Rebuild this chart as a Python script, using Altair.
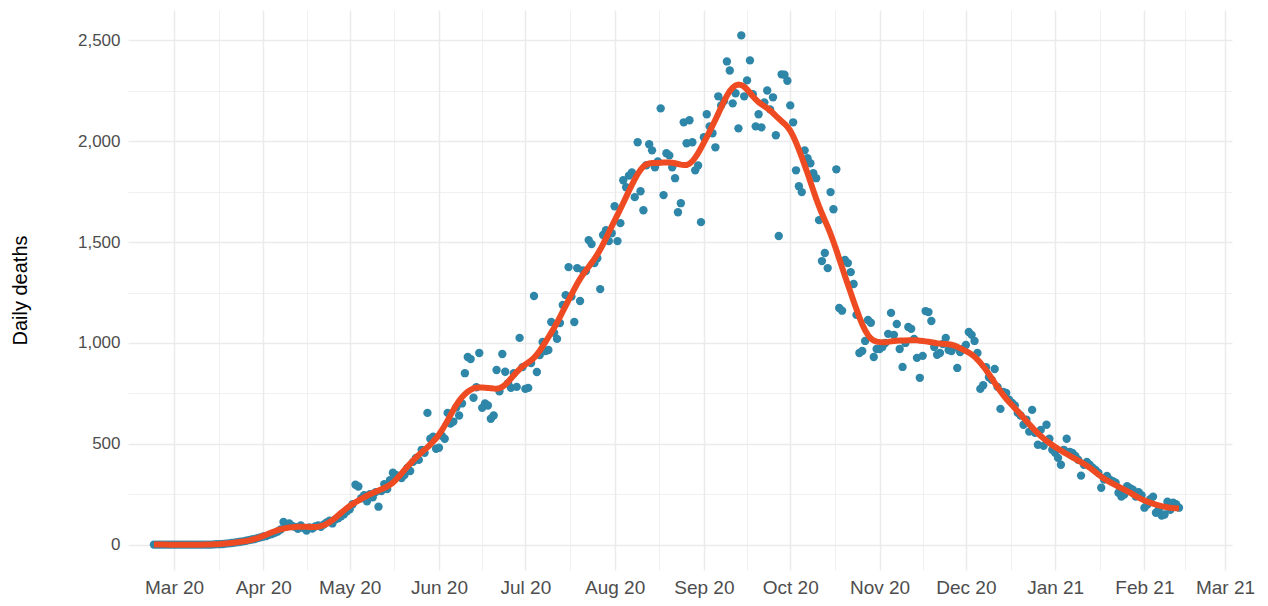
import altair as alt
import numpy as np
import pandas as pd
from datetime import datetime, timezone

# Daily deaths, one value per day starting 2020-02-23
feb20 = [0, 0, 0, 0, 0, 0, 0]
mar20 = [0, 0, 0, 0, 0, 0, 0, 0, 0, 0, 0, 0, 0, 0,
         1, 2, 2, 3, 5, 6, 8, 10, 12, 14, 16, 19, 22, 25, 28, 32, 36]
apr20 = [40, 42, 48, 52, 58, 65, 75, 112, 98, 105, 92, 88, 78, 95, 82,
         70, 85, 80, 90, 95, 88, 100, 110, 118, 105, 125, 130, 140, 150, 165]
may20 = [175, 200, 297, 288, 230, 245, 215, 250, 235, 260, 188, 265, 300, 275, 320,
         356, 345, 340, 330, 345, 380, 365, 410, 430, 420, 470, 455, 653, 525, 535, 475]
jun20 = [480, 540, 525, 653, 600, 610, 680, 640, 700, 850, 930, 920, 728, 780, 950,
         678, 700, 690, 624, 640, 866, 760, 945, 857, 800, 777, 850, 782, 1025, 880]
jul20 = [772, 777, 900, 1233, 856, 940, 1005, 960, 965, 1104, 1050, 1020, 1099, 1188, 1237,
         1376, 1230, 1104, 1371, 1208, 1360, 1356, 1510, 1490, 1396, 1420, 1267, 1535, 1559, 1505, 1544]
aug20 = [1678, 1505, 1594, 1807, 1772, 1830, 1846, 1723, 1995, 1752, 1658, 1881, 1985, 1955, 1871,
         1900, 2163, 1733, 1941, 1930, 1871, 1817, 1648, 1693, 2094, 1990, 2104, 1995, 1856, 1880, 1599]
sep20 = [2020, 2134, 2074, 2040, 1970, 2223, 2178, 2200, 2396, 2351, 2188, 2238, 2064, 2525, 2223,
         2302, 2401, 2233, 2074, 2134, 2069, 2193, 2252, 2158, 2218, 2030, 1530, 2332, 2330, 2300]
oct20 = [2178, 2094, 1856, 1777, 1748, 1955, 1916, 1891, 1842, 1817, 1609, 1406, 1446, 1371, 1748,
         1663, 1861, 1173, 1160, 1411, 1396, 1351, 1292, 1139, 950, 960, 1010, 1114, 1100, 930, 970]
nov20 = [970, 980, 1000, 1045, 1149, 1040, 1094, 970, 881, 1000, 1079, 1070, 1020, 926, 827,
         936, 1158, 1153, 1109, 980, 941, 950, 995, 1025, 965, 960, 980, 876, 955, 970]
dec20 = [990, 1054, 1040, 1010, 950, 772, 790, 880, 830, 817, 871, 782, 673, 757, 752,
         718, 703, 690, 653, 640, 594, 620, 560, 668, 554, 495, 569, 490, 594, 525, 470]
jan21 = [455, 430, 396, 470, 525, 460, 455, 440, 421, 342, 396, 410, 396, 381, 370,
         356, 282, 322, 340, 322, 315, 307, 257, 238, 248, 290, 280, 272, 238, 260, 245]
feb21 = [183, 198, 225, 238, 158, 175, 144, 149, 213, 173, 208, 200, 183]

deaths = (feb20 + mar20 + apr20 + may20 + jun20 + jul20 + aug20 + sep20 +
          oct20 + nov20 + dec20 + jan21 + feb21)
dates = pd.date_range("2020-02-23", periods=len(deaths), freq="D")


def loess_quadratic(y, span=0.1):
    """Local quadratic regression with tricube weights (as R's loess, degree 2)."""
    y = np.asarray(y, dtype=float)
    n = len(y)
    x = np.arange(n, dtype=float)
    q = int(np.floor(n * span))
    out = np.empty(n)
    for i in range(n):
        d = np.abs(x - x[i])
        h = np.sort(d)[q - 1]
        w = np.clip(1 - (d / h) ** 3, 0, None) ** 3
        X = np.vstack([np.ones(n), x - x[i], (x - x[i]) ** 2]).T
        W = np.sqrt(w)
        beta, *_ = np.linalg.lstsq(X * W[:, None], y * W, rcond=None)
        out[i] = beta[0]
    return out


df = pd.DataFrame({
    "date": dates.strftime("%Y-%m-%d"),
    "deaths": deaths,
    "smooth": loess_quadratic(deaths, span=0.1),
})

POINT_COLOR = "#2E86A8"
LINE_COLOR = "#EE4B23"
GRID = "#EBEBEB"
FONT = "Liberation Sans"


def ms(y, m, d, h=0):
    return int(datetime(y, m, d, h, tzinfo=timezone.utc).timestamp() * 1000)


month_starts = [ms(2020, m, 1) for m in range(2, 13)] + [ms(2021, m, 1) for m in (1, 2, 3)]
mid_months = [(a + b) // 2 for a, b in zip(month_starts[:-1], month_starts[1:])]
x_ticks = sorted(month_starts[1:] + mid_months[1:])
y_ticks = list(range(0, 2501, 250))

x_scale = alt.Scale(
    type="utc",
    domain=[alt.DateTime(year=2020, month=2, date=14, utc=True),
            alt.DateTime(year=2021, month=3, date=3, hours=10, utc=True)],
    nice=False,
)
y_scale = alt.Scale(domain=[-126, 2651], nice=False, zero=False)

x_axis = alt.Axis(
    values=x_ticks,
    labelExpr="utcdate(datum.value) == 1 ? utcFormat(datum.value, '%b %y') : ''",
    gridWidth={"condition": {"test": "utcdate(datum.value) == 1", "value": 1.5}, "value": 0.75},
    title=None,
    labelFontSize=19,
    labelPadding=8,
    labelOverlap=False,
    labelFlush=False,
)
y_axis = alt.Axis(
    values=y_ticks,
    labelExpr="datum.value % 500 == 0 ? format(datum.value, ',') : ''",
    gridWidth={"condition": {"test": "datum.value % 500 == 0", "value": 1.5}, "value": 0.75},
    title="Daily deaths",
    titleFontSize=20,
    titleFontWeight="normal",
    titleColor="#000000",
    titleX=-108,
    titleY=280,
    titleAngle=270,
    titleAlign="center",
    titleBaseline="middle",
    labelFontSize=17,
    labelPadding=8,
    labelOverlap=False,
)

points = alt.Chart(df).mark_circle(size=70, color=POINT_COLOR, opacity=1).encode(
    x=alt.X("date:T", scale=x_scale, axis=x_axis),
    y=alt.Y("deaths:Q", scale=y_scale, axis=y_axis),
)

smooth = alt.Chart(df).mark_line(color=LINE_COLOR, strokeWidth=6).encode(
    x=alt.X("date:T", scale=x_scale, axis=x_axis),
    y=alt.Y("smooth:Q", scale=y_scale, axis=y_axis),
)

chart = (
    alt.layer(points, smooth)
    .properties(
        width=1104,
        height=560,
        autosize=alt.AutoSizeParams(type="none"),
        padding={"left": 120, "top": 2, "right": 28, "bottom": 28},
    )
    .configure_view(stroke=None)
    .configure_axis(
        domain=False,
        ticks=False,
        tickSize=0,
        gridColor=GRID,
        labelFont=FONT,
        titleFont=FONT,
        labelColor="#4D4D4D",
    )
)

chart.save("out.html", embed_options={"renderer": "svg", "actions": False})
